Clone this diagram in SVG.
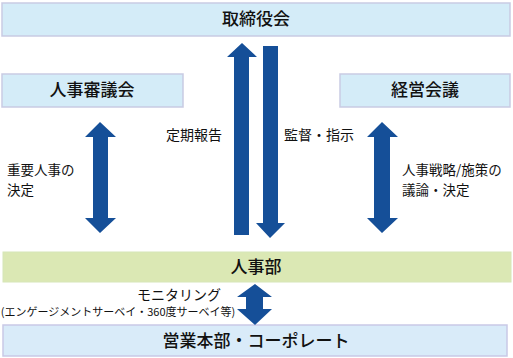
<svg xmlns="http://www.w3.org/2000/svg" width="513" height="358" viewBox="0 0 513 358">
<defs>
<style>
.box{fill:#d4ecf8;stroke:#c9cbe3;stroke-width:1.5}
.hr{fill:#dbe8b4;stroke:#d6e6b8;stroke-width:1}
.bot{fill:#d9ebf9;stroke:#c9c9e6;stroke-width:1.5}
.arr{fill:#154f98}
.t{font-family:"Noto Sans CJK JP","Noto Sans",sans-serif;fill:#111;text-anchor:middle}
.title{font-size:17px;font-weight:500}
.lbl{font-size:14px;text-anchor:start}
.lbl2{font-size:13.5px;text-anchor:start}
.sm{font-size:11px}
</style>
</defs>
<g id="board">
<rect class="box" x="2" y="3" width="508" height="33"/>
<text class="t title" x="256" y="25">取締役会</text>
</g>
<g id="council">
<rect class="box" x="2" y="74" width="181" height="33"/>
<text class="t title" x="92" y="96">人事審議会</text>
</g>
<g id="mgmt">
<rect class="box" x="340" y="74" width="170" height="33"/>
<text class="t title" x="425" y="96">経営会議</text>
</g>
<g id="hr">
<rect class="hr" x="3" y="252" width="508" height="30"/>
<text class="t title" x="256" y="273">人事部</text>
</g>
<g id="sales">
<rect class="bot" x="3" y="325" width="504" height="31"/>
<text class="t title" x="256" y="347">営業本部・コーポレート</text>
</g>
<g id="connectors">
<polygon class="arr" points="242,43 257,57 249,57 249,235 234,235 234,57 227,57"/>
<polygon class="arr" points="263,46 278,46 278,223 285,223 270,238 256,223 263,223"/>
<polygon class="arr" points="100,122 116,137 108,137 108,218 116,218 100,233 85,218 93,218 93,137 85,137"/>
<polygon class="arr" points="382,122 398,137 390,137 390,218 398,218 382,233 367,218 374,218 374,137 367,137"/>
<polygon class="arr" points="255,284 272,297 263,297 263,309 272,309 255,325 237,309 246,309 246,297 237,297"/>
</g>
<g id="labels">
<text class="t lbl" x="166" y="140">定期報告</text>
<text class="t lbl" x="284" y="140">監督・指示</text>
<text class="t lbl2" x="7" y="175">重要人事の</text>
<text class="t lbl2" x="7" y="195">決定</text>
<text class="t lbl2" x="402" y="175">人事戦略/施策の</text>
<text class="t lbl2" x="402" y="195">議論・決定</text>
<text class="t lbl" x="137" y="300">モニタリング</text>
<text class="t sm" x="118" y="316">(エンゲージメントサーベイ・360度サーベイ等)</text>
</g>
</svg>
